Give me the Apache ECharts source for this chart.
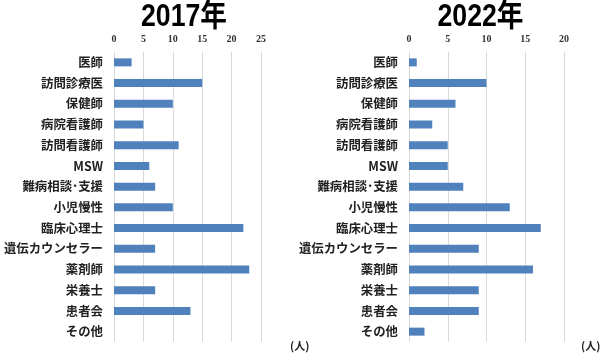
<!DOCTYPE html>
<html>
<head>
<meta charset="utf-8">
<script src="https://cdn.jsdelivr.net/npm/echarts@6/dist/echarts.min.js"></script>
<style>html,body{margin:0;padding:0;background:#fff;}#c{width:611px;height:358px;}</style>
</head>
<body>
<div id="c"></div>
<script>
var categories = ['医師','訪問診療医','保健師','病院看護師','訪問看護師','MSW','難病相談･支援','小児慢性','臨床心理士','遺伝カウンセラー','薬剤師','栄養士','患者会','その他'];
var values2017 = [3,15,10,5,11,6,7,10,22,7,23,7,13,0];
var values2022 = [1,10,6,3,5,5,7,13,17,9,16,9,9,2];
var titles = ['2017年','2022年'];
var unitLabel = '(人)';
var max2017 = 25, max2022 = 20;

var chart = echarts.init(document.getElementById('c'));
var catFont = '"Noto Sans CJK JP", "Noto Sans", sans-serif';
var titleFont = '"Liberation Sans", "Noto Sans CJK JP", sans-serif';
function xAx(idx, max){
  return {gridIndex: idx, type:'value', position:'top', min:0, max:max, interval:5,
    axisLine:{show:false}, axisTick:{show:false},
    axisLabel:{fontFamily:'"Liberation Serif", serif', fontWeight:'bold', fontSize:10, color:'#333', margin:8},
    splitLine:{show:true, lineStyle:{color:'#d9d9d9', width:1}}};
}
function yAx(idx){
  return {gridIndex: idx, type:'category', data:categories, inverse:true,
    axisLine:{show:false}, axisTick:{show:false},
    axisLabel:{fontFamily:catFont, fontWeight:'bold', fontSize:12.4, color:'#222', margin:11}};
}
function titleText(txt, cx){
  return {type:'text', x:cx, y:17, scaleX:0.86, z:10,
    style:{text:txt, font:'bold 31px ' + titleFont, fill:'#000', textAlign:'center', textVerticalAlign:'middle'}};
}
chart.setOption({
  animation:false,
  backgroundColor:'#fff',
  grid:[
    {left:114, top:52, width:147, height:290},
    {left:409, top:52, width:155, height:290}
  ],
  xAxis:[xAx(0,max2017), xAx(1,max2022)],
  yAxis:[yAx(0), yAx(1)],
  series:[
    {type:'bar', xAxisIndex:0, yAxisIndex:0, data:values2017, barWidth:8, itemStyle:{color:'#4f81bd'}},
    {type:'bar', xAxisIndex:1, yAxisIndex:1, data:values2022, barWidth:8, itemStyle:{color:'#4f81bd'}}
  ],
  graphic:[
    titleText(titles[0], 184),
    titleText(titles[1], 480.5),
    {type:'text', left:290, top:340, style:{text:unitLabel, font:'bold 11px "Noto Sans CJK JP", sans-serif', fill:'#222'}},
    {type:'text', left:581, top:340, style:{text:unitLabel, font:'bold 11px "Noto Sans CJK JP", sans-serif', fill:'#222'}}
  ]
});
</script>
</body>
</html>
